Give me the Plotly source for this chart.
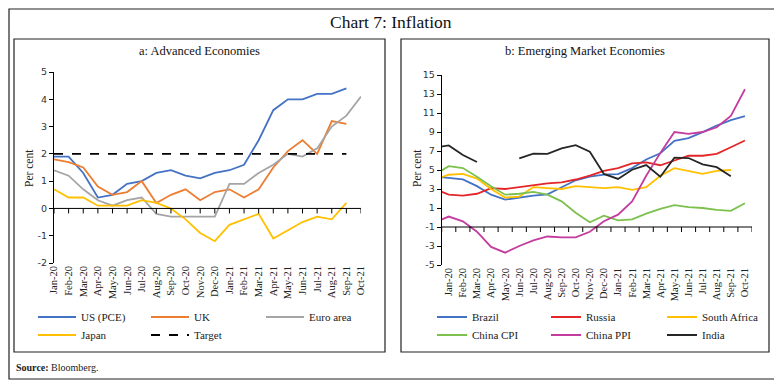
import plotly.graph_objects as go

# ---------------- data ----------------
months = ["Jan-20", "Feb-20", "Mar-20", "Apr-20", "May-20", "Jun-20", "Jul-20", "Aug-20",
          "Sep-20", "Oct-20", "Nov-20", "Dec-20", "Jan-21", "Feb-21", "Mar-21", "Apr-21",
          "May-21", "Jun-21", "Jul-21", "Aug-21", "Sep-21", "Oct-21"]

us_pce = [1.9, 1.9, 1.3, 0.4, 0.5, 0.9, 1.0, 1.3, 1.4, 1.2, 1.1, 1.3, 1.4, 1.6, 2.5, 3.6,
          4.0, 4.0, 4.2, 4.2, 4.4, None]
uk = [1.8, 1.7, 1.5, 0.8, 0.5, 0.6, 1.0, 0.2, 0.5, 0.7, 0.3, 0.6, 0.7, 0.4, 0.7, 1.5,
      2.1, 2.5, 2.0, 3.2, 3.1, None]
euro_area = [1.4, 1.2, 0.7, 0.3, 0.1, 0.3, 0.4, -0.2, -0.3, -0.3, -0.3, -0.3, 0.9, 0.9, 1.3,
             1.6, 2.0, 1.9, 2.2, 3.0, 3.4, 4.1]
japan = [0.7, 0.4, 0.4, 0.1, 0.1, 0.1, 0.3, 0.2, 0.0, -0.4, -0.9, -1.2, -0.6, -0.4, -0.2,
         -1.1, -0.8, -0.5, -0.3, -0.4, 0.2, None]
target = [2.0, 2.0, 2.0, 2.0, 2.0, 2.0, 2.0, 2.0, 2.0, 2.0, 2.0, 2.0, 2.0, 2.0, 2.0, 2.0,
          2.0, 2.0, 2.0, 2.0, 2.0, None]

em_months = ["Dec-19"] + months
brazil = [4.31, 4.19, 4.01, 3.30, 2.40, 1.88, 2.13, 2.31, 2.44, 3.14, 3.92, 4.31, 4.52, 4.56,
          5.20, 6.10, 6.76, 8.06, 8.35, 8.99, 9.68, 10.25, 10.67]
russia = [3.0, 2.4, 2.3, 2.5, 3.1, 3.0, 3.2, 3.4, 3.6, 3.7, 4.0, 4.4, 4.9, 5.2, 5.7, 5.8,
          5.5, 6.0, 6.5, 6.5, 6.7, 7.4, 8.1]
south_africa = [4.0, 4.5, 4.6, 4.1, 3.0, 2.1, 2.2, 3.2, 3.1, 3.0, 3.3, 3.2, 3.1, 3.2, 2.9,
                3.2, 4.4, 5.2, 4.9, 4.6, 4.9, 5.0, None]
china_cpi = [4.5, 5.4, 5.2, 4.3, 3.3, 2.4, 2.5, 2.7, 2.4, 1.7, 0.5, -0.5, 0.2, -0.3, -0.2,
             0.4, 0.9, 1.3, 1.1, 1.0, 0.8, 0.7, 1.5]
china_ppi = [-0.5, 0.1, -0.4, -1.5, -3.1, -3.7, -3.0, -2.4, -2.0, -2.1, -2.1, -1.5, -0.4, 0.3,
             1.7, 4.4, 6.8, 9.0, 8.8, 9.0, 9.5, 10.7, 13.5]
india = [7.35, 7.59, 6.58, 5.84, None, None, 6.23, 6.73, 6.69, 7.27, 7.61, 6.93, 4.59, 4.06,
         5.03, 5.52, 4.29, 6.30, 6.26, 5.59, 5.30, 4.35, None]

left_yticks = [-2, -1, 0, 1, 2, 3, 4, 5]
right_yticks = [-5, -3, -1, 1, 3, 5, 7, 9, 11, 13, 15]

# ---------------- layout helpers ----------------
# The page body has an 8px default margin, so the figure is offset by 8px.
OFF = 8
W, H = 782 - OFF, 383 - OFF
def px(x):
    return (x - OFF) / W
def py(y):
    return 1 - (y - OFF) / H

SERIF = "Liberation Serif"
SANS = "DejaVu Sans"
TXT = "#222222"

fig = go.Figure()

# (name, values, colour, dash, legend-sample x, legend row y)
left_series = [
    ("US (PCE)", us_pce, "#4472C4", "solid", 39, 317),
    ("UK", uk, "#ED7D31", "solid", 152, 317),
    ("Euro area", euro_area, "#A5A5A5", "solid", 267, 317),
    ("Japan", japan, "#FFC000", "solid", 39, 335),
    ("Target", target, "#000000", "dash", 152, 335),
]
right_series = [
    ("Brazil", brazil, "#4472C4", 438, 317),
    ("Russia", russia, "#E3262A", 552, 317),
    ("South Africa", south_africa, "#FFC000", 668, 317),
    ("China CPI", china_cpi, "#7CC14E", 438, 335),
    ("China PPI", china_ppi, "#C33C9E", 552, 335),
    ("India", india, "#262626", 668, 335),
]

legend_common = dict(orientation="h", bgcolor="rgba(0,0,0,0)", borderwidth=0,
                     font=dict(family=SERIF, size=11, color=TXT),
                     xanchor="left", yanchor="middle", itemclick=False,
                     itemdoubleclick=False, visible=True)
LEG_SHIFT = 6  # offset between legend box edge and start of the sample line
legends = {}
k = 0
for name, vals, col, dash, lx, ly in left_series:
    k += 1
    lg = "legend" if k == 1 else "legend%d" % k
    legends[lg] = dict(legend_common, itemwidth=38, x=px(lx - LEG_SHIFT), y=py(ly))
    fig.add_trace(go.Scatter(x=months, y=vals, name=name, mode="lines",
                             line=dict(color=col, width=1.8, dash=dash), showlegend=True,
                             xaxis="x", yaxis="y", legend=lg, connectgaps=False))
for name, vals, col, lx, ly in right_series:
    k += 1
    lg = "legend%d" % k
    legends[lg] = dict(legend_common, itemwidth=30, x=px(lx - LEG_SHIFT), y=py(ly))
    fig.add_trace(go.Scatter(x=em_months, y=vals, name=name, mode="lines",
                             line=dict(color=col, width=1.8), showlegend=True,
                             xaxis="x2", yaxis="y2", legend=lg, connectgaps=False))
fig.update_layout(showlegend=True, **legends)

tickfont_x = dict(family=SERIF, size=10.5, color=TXT)
tickfont_y = dict(family=SANS, size=9.5, color="#333333")

fig.update_layout(
    width=W, height=H,
    margin=dict(l=0, r=0, t=0, b=0, autoexpand=False),
    paper_bgcolor="white", plot_bgcolor="rgba(0,0,0,0)",
    xaxis=dict(domain=[px(54), px(361)], type="category", categoryorder="array",
               categoryarray=months, range=[0, len(months) - 1], tickangle=-90,
               tickmode="array", tickvals=months, ticktext=months, automargin=False,
               showline=False, ticks="", showgrid=False, zeroline=False,
               tickfont=tickfont_x, anchor="y"),
    yaxis=dict(domain=[py(263), py(72)], range=[-2, 5], tickmode="array",
               tickvals=left_yticks, ticktext=[str(v) for v in left_yticks], automargin=False,
               showline=True, linecolor="#000000", linewidth=1, ticks="outside",
               ticklen=4, tickcolor="#000000", showgrid=False, zeroline=False,
               tickfont=tickfont_y, anchor="x"),
    xaxis2=dict(domain=[px(441.7), px(752)], type="category", categoryorder="array",
                categoryarray=em_months, range=[0.5, len(em_months) - 0.5], tickangle=-90,
                tickmode="array", tickvals=months, ticktext=months, automargin=False,
                showline=False, ticks="", showgrid=False, zeroline=False,
                tickfont=tickfont_x, anchor="y2"),
    yaxis2=dict(domain=[py(265), py(75)], range=[-5, 15], tickmode="array",
                tickvals=right_yticks, ticktext=[str(v) for v in right_yticks],
                automargin=False,
                showline=True, linecolor="#000000", linewidth=1, ticks="outside",
                ticklen=4, tickcolor="#000000", showgrid=False, zeroline=False,
                tickfont=tickfont_y, anchor="x2"),
)

shapes = []
# outer border (kept inside the drawable page area) and panel boxes
shapes.append(dict(type="rect", xref="paper", yref="paper", x0=px(9), x1=px(777),
                   y0=py(379), y1=py(9), line=dict(color="#222222", width=1.2)))
shapes.append(dict(type="rect", xref="paper", yref="paper", x0=px(14), x1=px(385),
                   y0=py(352), y1=py(39), line=dict(color="#222222", width=1.2)))
shapes.append(dict(type="rect", xref="paper", yref="paper", x0=px(401), x1=px(769),
                   y0=py(352), y1=py(39), line=dict(color="#222222", width=1.2)))
# left horizontal axis at zero with tick marks at categories
shapes.append(dict(type="line", xref="x", yref="y", x0=0, x1=len(months) - 1, y0=0, y1=0,
                   line=dict(color="#000000", width=1)))
for i in range(len(months)):
    shapes.append(dict(type="line", xref="x", yref="y", x0=i, x1=i,
                       ysizemode="pixel", yanchor=0, y0=0, y1=-5,
                       line=dict(color="#000000", width=1)))
# right horizontal axis at -1 with tick marks at category boundaries
shapes.append(dict(type="line", xref="x2", yref="y2", x0=0.5, x1=len(em_months) - 0.5,
                   y0=-1, y1=-1, line=dict(color="#000000", width=1)))
for i in range(len(em_months)):
    shapes.append(dict(type="line", xref="x2", yref="y2", x0=i + 0.5, x1=i + 0.5,
                       ysizemode="pixel", yanchor=-1, y0=0, y1=-5,
                       line=dict(color="#000000", width=1)))
fig.update_layout(shapes=shapes)

annotations = [
    dict(text="Chart 7: Inflation", x=px(391), y=py(22), xref="paper", yref="paper",
         showarrow=False, font=dict(family=SERIF, size=17.5, color="#111111"),
         xanchor="center", yanchor="middle"),
    dict(text="a: Advanced Economies", x=px(199.5), y=py(51), xref="paper", yref="paper",
         showarrow=False, font=dict(family=SERIF, size=12.5, color="#111111"),
         xanchor="center", yanchor="middle"),
    dict(text="b: Emerging Market Economies", x=px(585), y=py(51), xref="paper",
         yref="paper", showarrow=False, font=dict(family=SERIF, size=12.5, color="#111111"),
         xanchor="center", yanchor="middle"),
    dict(text="Per cent", x=px(29), y=py(168), xref="paper", yref="paper", textangle=-90,
         showarrow=False, font=dict(family=SERIF, size=11.5, color=TXT),
         xanchor="center", yanchor="middle"),
    dict(text="Per cent", x=px(417), y=py(168), xref="paper", yref="paper", textangle=-90,
         showarrow=False, font=dict(family=SERIF, size=11.5, color=TXT),
         xanchor="center", yanchor="middle"),
    dict(text="<b>Source:</b> Bloomberg.", x=px(14), y=py(367), xref="paper", yref="paper",
         showarrow=False, font=dict(family=SERIF, size=10, color=TXT),
         xanchor="left", yanchor="middle"),
]
fig.update_layout(annotations=annotations)

fig.write_html("out.html")
